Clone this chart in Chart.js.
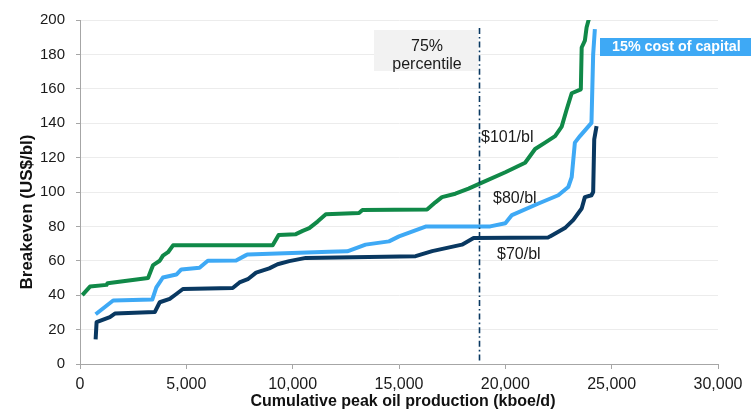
<!DOCTYPE html>
<html>
<head>
<meta charset="utf-8">
<script src="https://cdn.jsdelivr.net/npm/chart.js@4/dist/chart.umd.min.js"></script>
<style>
  html, body { margin: 0; padding: 0; background: #ffffff; }
  #wrap { width: 751px; height: 412px; position: relative; }
</style>
</head>
<body>
<div id="wrap"><canvas id="c" width="751" height="412"></canvas></div>
<script>
// Breakeven cost curves: cumulative peak production (kboe/d) vs breakeven (US$/bl)
const greenX = [108, 470, 1250, 1300, 3200, 3437, 3750, 3900, 4140, 4375, 9060, 9340, 10150, 10470, 10780, 11170, 11560, 13120, 13280, 16320, 16710, 17020, 17650, 18270, 18820, 20000, 20930, 21400, 21870, 22340, 22650, 22880, 23120, 23550, 23590, 23740, 23820, 23980];
const greenY = [40, 45, 46, 47, 50, 57.5, 60, 63, 65, 69, 69, 75, 75.5, 77.4, 79, 82.8, 87, 87.8, 89.5, 89.8, 94, 97, 99, 102, 105, 111.5, 117, 125, 128.7, 132.5, 138, 147.8, 157.4, 159.7, 184, 188, 195.6, 203];

const blueX = [735, 1560, 3400, 3590, 3900, 4530, 4765, 5620, 6010, 7340, 7810, 7890, 11715, 12570, 13430, 14530, 15000, 16250, 19290, 20000, 20310, 21560, 22490, 22960, 23120, 23270, 23510, 24050, 24130, 24210];
const blueY = [28.9, 36.9, 37.5, 44.5, 50.3, 52, 55, 56, 60, 60.2, 63.3, 63.7, 65.2, 65.5, 69.4, 71.3, 74.2, 79.9, 80, 81.8, 86.6, 93.3, 98.1, 102.9, 108.6, 128.7, 132.5, 140.2, 180, 194.7];

const navyX = [735, 780, 1405, 1640, 3515, 3750, 4220, 4530, 4840, 7180, 7500, 7890, 8280, 8900, 9290, 9840, 10620, 15780, 16560, 17960, 18510, 22020, 22100, 22800, 23200, 23590, 23740, 24050, 24130, 24180, 24290];
const navyY = [14.3, 24.4, 27.3, 29.3, 30.2, 35.9, 37.9, 40.7, 43.6, 44.2, 47.4, 49.3, 53.1, 55.6, 58, 59.8, 61.7, 62.7, 65.6, 69.4, 73.2, 73.6, 74.2, 79, 83.8, 90.4, 97, 98.1, 100, 130.6, 138.3];

const seriesLabels = ['$101/bl', '$80/bl', '$70/bl'];
const percentileX = 18750;
const percentileText = ['75%', 'percentile'];
const capitalText = '15% cost of capital';
const xTitle = 'Cumulative peak oil production (kboe/d)';
const yTitle = 'Breakeven (US$/bl)';

const GREEN = 'rgb(16,137,72)';
const BLUE = 'rgb(62,169,245)';
const NAVY = 'rgb(9,56,97)';
const FONT = '"Liberation Sans", Arial, sans-serif';

function pts(xs, ys) { return xs.map((x, i) => ({ x: x, y: ys[i] })); }

const overlay = {
  id: 'overlay',
  beforeDatasetsDraw(chart) {
    const ctx = chart.ctx;
    // grey box behind the percentile note
    ctx.save();
    ctx.fillStyle = '#f2f2f2';
    ctx.fillRect(374, 30, 104, 41);
    ctx.restore();
  },
  afterDatasetsDraw(chart) {
    const ctx = chart.ctx;
    const xs = chart.scales.x;
    const ys = chart.scales.y;
    ctx.save();
    // dash-dot marker at the 75th percentile of cumulative production
    const px = Math.round(xs.getPixelForValue(percentileX)) + 0.5;
    ctx.strokeStyle = NAVY;
    ctx.lineWidth = 1.6;
    ctx.setLineDash([6, 3, 1.6, 3]);
    ctx.beginPath();
    ctx.moveTo(px, 28);
    ctx.lineTo(px, ys.bottom - 2);
    ctx.stroke();
    ctx.setLineDash([]);

    ctx.fillStyle = '#1a1a1a';
    ctx.font = '16px ' + FONT;
    ctx.textAlign = 'center';
    ctx.textBaseline = 'middle';
    ctx.fillText(percentileText[0], 427, 47);
    ctx.fillText(percentileText[1], 427, 65);

    ctx.textAlign = 'left';
    ctx.fillText(seriesLabels[0], 481, 138);
    ctx.fillText(seriesLabels[1], 493, 199);
    ctx.fillText(seriesLabels[2], 497, 255);

    // cost-of-capital tag
    ctx.fillStyle = BLUE;
    ctx.fillRect(600, 38, 151, 18);
    ctx.fillStyle = '#ffffff';
    ctx.font = 'bold 14.3px ' + FONT;
    ctx.fillText(capitalText, 612, 47.5);

    // axis titles
    ctx.fillStyle = '#111111';
    ctx.font = 'bold 16px ' + FONT;
    ctx.textAlign = 'center';
    ctx.fillText(xTitle, 403, 402);
    ctx.font = 'bold 17px ' + FONT;
    ctx.translate(27, 212);
    ctx.rotate(-Math.PI / 2);
    ctx.fillText(yTitle, 0, 0);
    ctx.restore();
  }
};

new Chart(document.getElementById('c'), {
  type: 'line',
  data: {
    datasets: [
      { data: pts(greenX, greenY), borderColor: GREEN, borderWidth: 4 },
      { data: pts(blueX, blueY), borderColor: BLUE, borderWidth: 4 },
      { data: pts(navyX, navyY), borderColor: NAVY, borderWidth: 4 }
    ].map(d => Object.assign(d, { pointRadius: 0, tension: 0, fill: false, borderJoinStyle: 'round', borderCapStyle: 'butt' }))
  },
  options: {
    responsive: false,
    animation: false,
    events: [],
    layout: { padding: { left: 0, right: 33, top: 16, bottom: 0 } },
    plugins: { legend: { display: false }, tooltip: { enabled: false } },
    scales: {
      x: {
        type: 'linear',
        min: 0, max: 30000,
        ticks: {
          stepSize: 5000,
          color: '#1a1a1a',
          font: { family: FONT, size: 16 },
          padding: 6,
          maxRotation: 0,
          callback: v => v.toLocaleString('en-US')
        },
        grid: { drawOnChartArea: false, drawTicks: true, tickLength: 5, tickColor: '#a6a6a6' },
        border: { color: '#a6a6a6', width: 1 },
        afterFit: s => { s.height = 48; }
      },
      y: {
        min: 0, max: 200,
        ticks: {
          stepSize: 20,
          color: '#1a1a1a',
          font: { family: FONT, size: 15 },
          padding: 11
        },
        grid: { color: '#ececec', lineWidth: 1, tickLength: 4, tickColor: '#a6a6a6' },
        border: { color: '#a6a6a6', width: 1 },
        afterFit: s => { s.width = 80; }
      }
    }
  },
  plugins: [overlay]
});
</script>
</body>
</html>
